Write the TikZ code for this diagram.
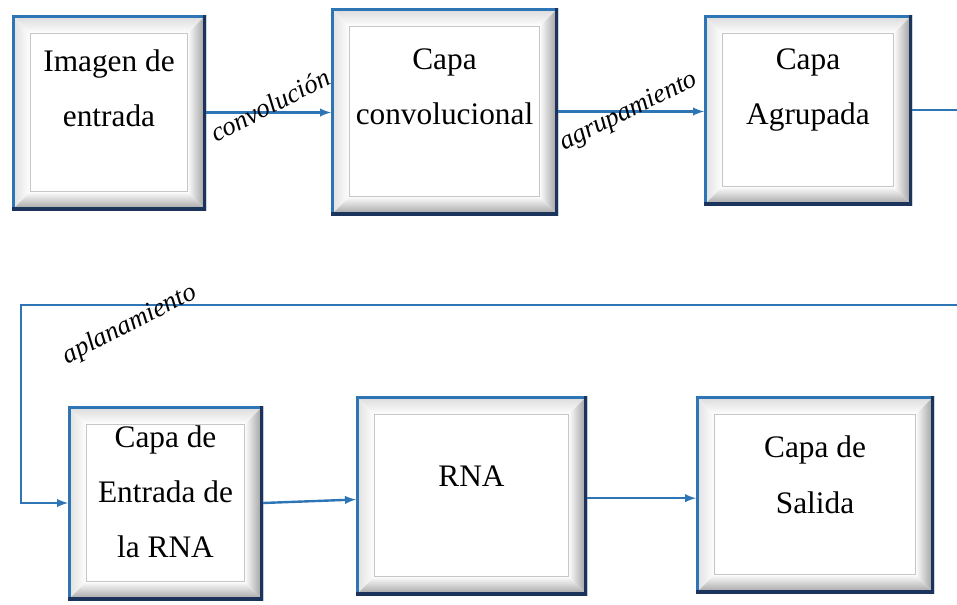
\documentclass[tikz,border=0pt]{standalone}
\usepackage{fontspec}
\setmainfont{Liberation Serif}
\usepackage{tikz}

\definecolor{lineblue}{RGB}{46,117,182}
\definecolor{edgenavy}{RGB}{28,52,92}
\newcommand{\BW}{14pt}

\tikzset{
  bevelbox/.style={rectangle, inner sep=0pt, outer sep=0pt,
    path picture={
      \coordinate (pa) at (path picture bounding box.north west);
      \coordinate (pb) at (path picture bounding box.north east);
      \coordinate (pc) at (path picture bounding box.south east);
      \coordinate (pd) at (path picture bounding box.south west);
      \coordinate (qa) at ([shift={(\BW,-\BW)}]pa);
      \coordinate (qb) at ([shift={(-\BW,-\BW)}]pb);
      \coordinate (qc) at ([shift={(-\BW,\BW)}]pc);
      \coordinate (qd) at ([shift={(\BW,\BW)}]pd);
      \fill[white] (pa) rectangle (pc);
      \shade[top color=gray!30, bottom color=white] (pa) -- (pb) -- (qb) -- (qa) -- cycle; % top
      \shade[left color=gray!25, right color=white] (pa) -- (qa) -- (qd) -- (pd) -- cycle; % left
      \shade[left color=white, right color=gray!80] (pb) -- (pc) -- (qc) -- (qb) -- cycle; % right
      \shade[top color=white, bottom color=gray!75] (pd) -- (qd) -- (qc) -- (pc) -- cycle; % bottom
      \draw[gray!45, line width=0.8pt] (qa) rectangle (qc);
      \draw[lineblue, line width=4pt] (pa) rectangle (pc);
      \draw[edgenavy, line width=4pt] (pb) -- (pc) -- (pd);
    }},
  boxtext/.style={align=center, font=\fontsize{23.5}{41.5}\selectfont},
  flow/.style={draw=lineblue, line width=1.8pt, -latex},
  lbl/.style={font=\fontsize{20}{22}\selectfont\itshape, inner sep=0pt}
}

\begin{document}
\begin{tikzpicture}[x=0.75pt, y=-0.75pt]

  \useasboundingbox (0,0) rectangle (957,604);
  \clip (0,0) rectangle (957,604);

  %% first row
  \node[bevelbox, minimum width=145.5pt, minimum height=146.25pt,
    label={[name=imgtxt, boxtext, yshift=18pt]center:{Imagen de\\entrada}}] (img) at (109,112.5) {};
  \node[bevelbox, minimum width=170.25pt, minimum height=155.25pt,
    label={[name=convtxt, boxtext, yshift=18.4pt]center:{Capa\\convolucional}}] (conv) at (444.5,111.5) {};
  \node[bevelbox, minimum width=156pt, minimum height=142.5pt,
    label={[name=pooltxt, boxtext, yshift=14.8pt]center:{Capa\\Agrupada}}] (pool) at (808,110) {};

  %% second row
  \node[bevelbox, minimum width=146.25pt, minimum height=145.5pt,
    label={[name=flattxt, boxtext, yshift=8.5pt]center:{Capa de\\Entrada de\\la RNA}}] (flat) at (165.5,503) {};
  \node[bevelbox, minimum width=173.25pt, minimum height=149.25pt,
    label={[name=rnatxt, boxtext, yshift=14.6pt]center:{RNA}}] (rna) at (471.5,495.5) {};
  \node[bevelbox, minimum width=178.5pt, minimum height=147.75pt,
    label={[name=outtxt, boxtext, yshift=14.8pt]center:{Capa de\\Salida}}] (out) at (815,494.5) {};

  \coordinate (turn) at (21,305);

  \draw[flow] (img.east) -- (img.east -| conv.west); % Imagen->Capa convolucional
  \draw[flow] (conv.east) -- (conv.east -| pool.west); % convolucional->Agrupada
  \draw[flow] (pool.east) -- ++(80,0) |- (turn) |- (flat.west); % Agrupada->Entrada RNA
  \draw[flow] (flat.east) -- ([yshift=-3pt]rna.west); % Entrada->RNA
  \draw[flow] ([yshift=-2pt]rna.east) -- ([yshift=-2pt]rna.east -| out.west); % RNA->Salida

  \node[lbl, rotate=27] (lconv) at (270,105) {convolución};
  \node[lbl, rotate=26] (lpool) at (629,112) {agrupamiento};
  \node[lbl, rotate=27] (lflat) at (130,325) {aplanamiento};
\end{tikzpicture}
\end{document}
